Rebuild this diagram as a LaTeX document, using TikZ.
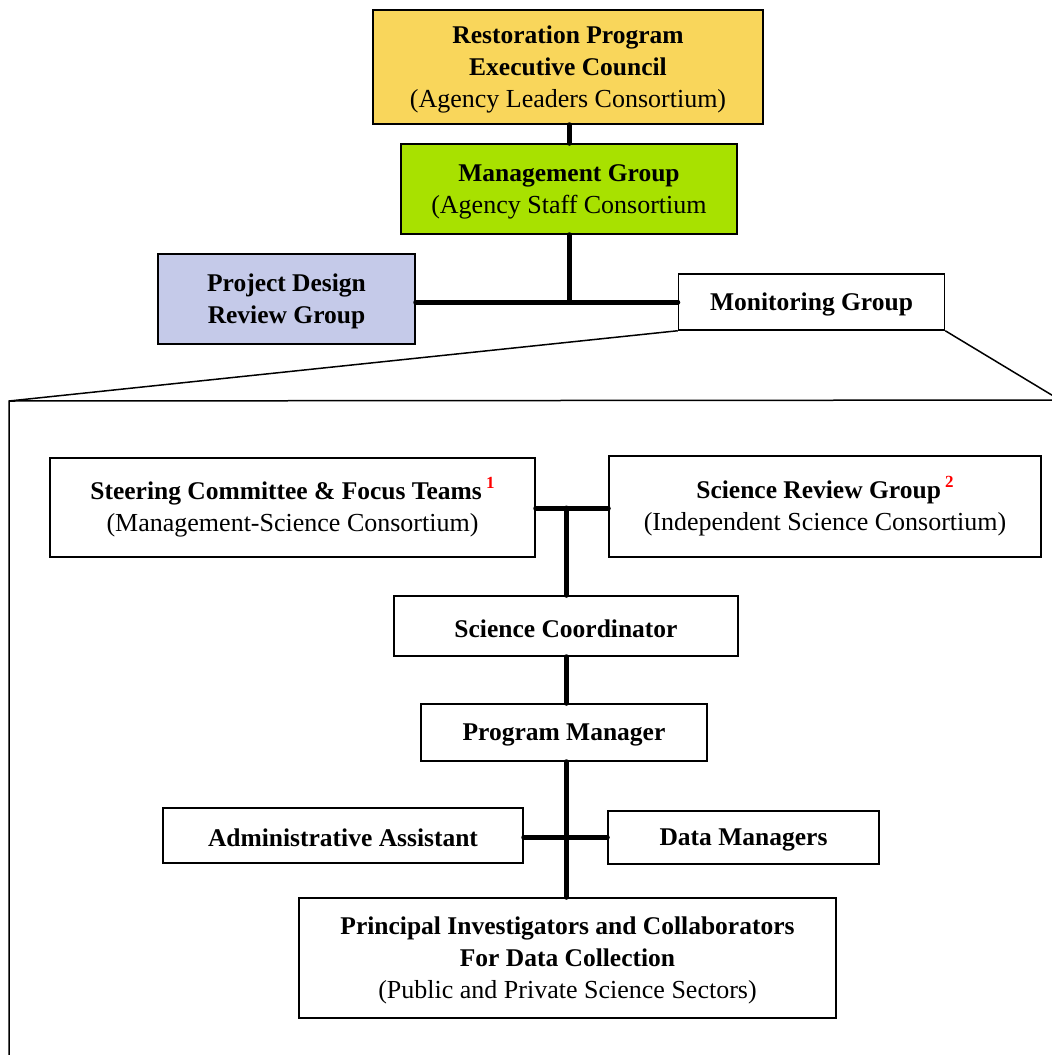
\documentclass[tikz,border=0pt]{standalone}
\usepackage{fontspec}
\setmainfont{Liberation Serif}
\usepackage{xcolor}
\definecolor{execY}{HTML}{F9D65B}
\definecolor{mgmtG}{HTML}{A8E100}
\definecolor{pdrgB}{HTML}{C5CAE9}
\newcommand{\bt}[1]{{\bfseries #1}}
\newcommand{\rt}[1]{{\fontsize{26}{32}\selectfont #1}}
\newcommand{\tp}{\rule{0pt}{22.5pt}}
\newcommand{\supnum}[1]{\,\raisebox{11pt}{\fontsize{17}{17}\selectfont\bfseries\color{red}#1}}
\begin{document}
\begin{tikzpicture}[x=1pt,y=-1pt,
  box/.style={draw=black,line width=1.5pt,inner sep=0pt,align=center,
    font=\fontsize{25.5}{32}\selectfont},
  conn/.style={line width=5pt,line cap=round},
  thin/.style={line width=1.5pt}]
\useasboundingbox (0,0) rectangle (1052,1055);
\clip (0,0) rectangle (1052,1055);
% upper organisation
\node[box,fill=execY,minimum width=390pt,minimum height=114pt] (exec) at (568,67)
  {\tp\bt{Restoration Program}\\\bt{Executive Council}\\\rt{(Agency Leaders Consortium)}};
\node[box,fill=mgmtG,minimum width=336pt,minimum height=90pt] (mgmt) at (569,189)
  {\tp\bt{Management Group}\\\rt{(Agency Staff Consortium}};
\node[box,fill=pdrgB,minimum width=257pt,minimum height=90pt] (pdrg) at (286.5,299)
  {\tp\bt{Project Design}\\\bt{Review Group}};
\node[box,fill=white,minimum width=266pt,minimum height=56pt] (mon) at (811.5,302)
  {\tp\bt{Monitoring Group}};
\coordinate (j1) at (569,302);
\draw[conn] (exec.south -| j1) -- (mgmt.north -| j1);
\draw[conn] (mgmt.south -| j1) -- (j1);
\draw[conn] (pdrg.east |- j1) -- (mon.west |- j1);
% callout frame
\coordinate (fl) at (9,401);
\coordinate (fr) at (1060,400);
\draw[thin] (mon.south west) -- (fl);
\draw[thin] (mon.south east) -- (fr);
\draw[thin,line join=miter] (9,1100) -- (fl) -- (1100,400);
% monitoring programme
\node[box,minimum width=485pt,minimum height=99pt] (steer) at (292.5,507.5)
  {\tp\bt{Steering Committee \& Focus Teams}\supnum{1}\\\rt{(Management-Science Consortium)}};
\node[box,minimum width=432pt,minimum height=101pt] (srg) at (825,506.5)
  {\tp\bt{Science Review Group}\supnum{2}\\\rt{(Independent Science Consortium)}};
\node[box,minimum width=344pt,minimum height=60pt] (sc) at (566,626)
  {\tp\bt{Science Coordinator}};
\node[box,minimum width=286pt,minimum height=57pt] (pm) at (564,732.5)
  {\tp\bt{Program Manager}};
\node[box,minimum width=360pt,minimum height=55pt] (admin) at (343,835.5)
  {\tp\bt{Administrative Assistant}};
\node[box,minimum width=271pt,minimum height=53pt] (dm) at (743.5,837.5)
  {\tp\bt{Data Managers}};
\node[box,minimum width=537pt,minimum height=120pt] (pi) at (567.5,958)
  {\tp\bt{Principal Investigators and Collaborators}\\\bt{For Data Collection}\\\rt{(Public and Private Science Sectors)}};
\coordinate (j2) at (566,508);
\coordinate (j3) at (566,837);
\draw[conn] (steer.east |- j2) -- (srg.west |- j2);
\draw[conn] (j2) -- (sc.north -| j2);
\draw[conn] (sc.south -| j2) -- (pm.north -| j2);
\draw[conn] (pm.south -| j3) -- (pi.north -| j3);
\draw[conn] (admin.east |- j3) -- (dm.west |- j3);
\end{tikzpicture}
\end{document}
